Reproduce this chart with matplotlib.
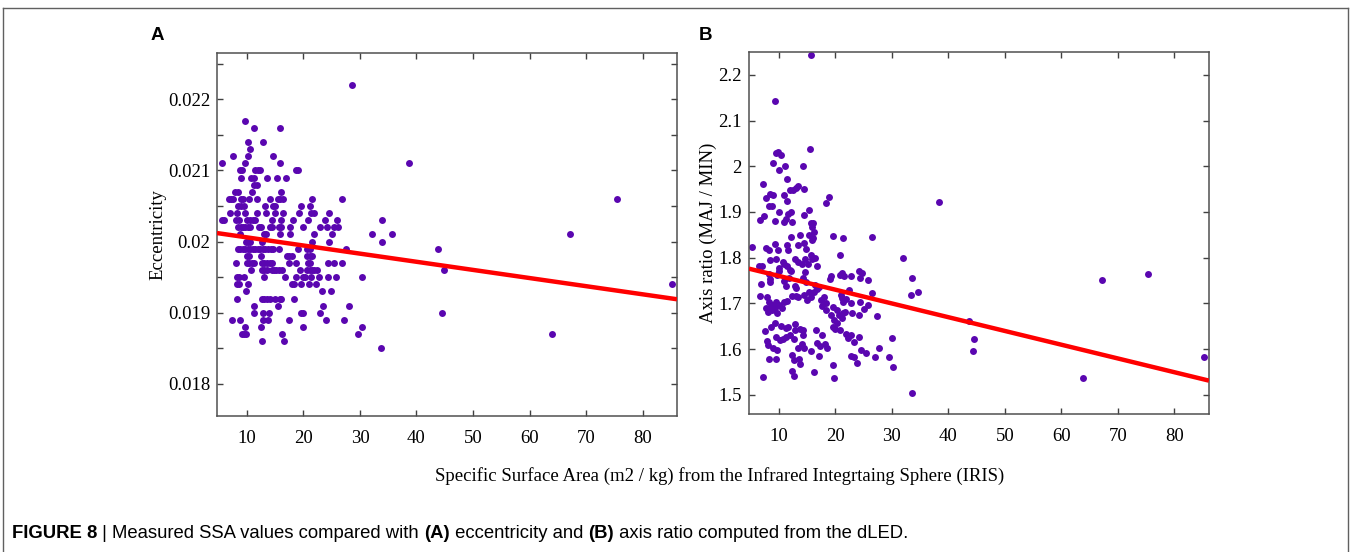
import matplotlib.pyplot as plt
from matplotlib.ticker import MultipleLocator, FuncFormatter

# ---- Panel A: eccentricity (values sit on a 1e-4 grid) ----
ecc_levels = [0.0222, 0.0217, 0.0216, 0.0214, 0.0213, 0.0212, 0.0211, 0.0210,
              0.0209, 0.0208, 0.0207, 0.0206, 0.0205, 0.0204, 0.0203, 0.0202,
              0.0201, 0.0200, 0.0199, 0.0198, 0.0197, 0.0196, 0.0195, 0.0194,
              0.0193, 0.0192, 0.0191, 0.0190, 0.0189, 0.0188, 0.0187, 0.0186,
              0.0185]
ssa_at_level = [
    [28.6],
    [9.6],
    [11.3, 15.8],
    [10.2, 12.8],
    [10.6],
    [7.5, 10.1, 14.7],
    [5.5, 9.7, 15.9, 38.6],
    [8.8, 9.2, 11.5, 11.9, 12.3, 18.6, 19.1],
    [8.9, 10.8, 11.2, 13.5, 15.4, 16.9],
    [11.2, 11.8],
    [7.9, 8.4, 10.9, 16.0],
    [6.8, 7.2, 7.6, 8.9, 9.3, 10.4, 11.8, 14.0, 15.5, 15.9, 16.3, 21.5, 26.8, 75.5],
    [8.5, 8.9, 9.4, 13.2, 14.6, 15.0, 19.6, 21.2],
    [7.0, 8.2, 9.6, 11.8, 13.4, 15.0, 16.3, 19.2, 21.4, 21.8, 24.5],
    [5.6, 6.0, 8.1, 8.6, 10.0, 10.6, 11.0, 11.4, 14.4, 16.1, 18.2, 20.8, 23.8,
     26.0, 33.9],
    [8.5, 8.9, 9.3, 9.7, 10.2, 10.6, 12.1, 12.5, 14.1, 14.4, 15.6, 16.1, 17.6,
     19.9, 22.9, 24.2, 25.4, 26.1],
    [8.7, 13.1, 13.4, 15.9, 17.6, 21.8, 25.0, 32.2, 35.6, 67.2],
    [9.8, 10.2, 10.6, 12.6, 21.5, 24.5, 33.9],
    [8.4, 8.8, 9.3, 9.7, 10.1, 10.6, 11.1, 11.5, 12.0, 12.4, 12.8, 13.2, 13.7,
     14.2, 14.6, 15.6, 19.1, 20.6, 21.1, 27.5, 43.8],
    [10.0, 10.4, 12.5, 17.1, 17.5, 17.9, 20.7, 21.2, 21.6],
    [8.1, 10.0, 10.4, 10.9, 11.3, 12.6, 13.1, 13.5, 14.0, 14.5, 17.4, 18.6, 20.8,
     21.2, 24.3, 25.4, 26.8],
    [10.8, 12.6, 13.1, 13.5, 14.4, 14.8, 15.2, 15.7, 16.2, 19.4, 20.6, 21.1, 21.5,
     21.9, 22.4, 44.8],
    [8.2, 8.6, 9.5, 13.1, 16.8, 18.6, 19.9, 20.3, 21.4, 22.8, 24.3, 25.8, 30.3],
    [8.2, 8.6, 10.2, 17.9, 18.4, 19.6, 20.9, 22.2, 85.3],
    [9.9, 23.2, 24.8],
    [8.3, 12.6, 13.1, 13.6, 14.1, 14.9, 15.8, 16.1, 18.4],
    [11.3, 15.5, 23.5, 28.0],
    [11.2, 12.9, 13.9, 19.6, 20.0, 22.9, 44.5],
    [7.4, 8.7, 12.9, 13.8, 17.5, 24.0, 27.2],
    [9.6, 12.5, 19.9, 30.4],
    [9.1, 9.5, 9.9, 16.2, 29.7, 63.9],
    [12.6, 16.5],
    [33.8],
]

# ---- Panel B: axis ratio ----
ssa_b = [15.7, 9.3, 9.5, 9.9, 10.4, 15.5, 9.0, 11.0, 14.3, 10.1, 7.2, 11.4, 14.5,
         11.9, 12.5, 13.0, 13.3, 8.5, 8.9, 10.9, 7.8, 11.4, 18.4, 18.9, 8.3, 8.7,
         10.0, 11.7, 12.2, 14.4, 15.4, 6.7, 7.3, 9.3, 10.9, 11.3, 12.4, 15.7, 16.1,
         15.9,
         13.8, 12.2, 15.4, 16.2, 16.0, 15.9, 19.5, 21.4, 26.5, 5.2, 7.8, 8.2, 9.3,
         11.5, 11.7, 9.9, 13.3, 14.4, 14.8, 8.4, 9.5, 10.7, 6.5, 7.0, 10.1, 10.9,
         11.5, 12.0, 12.2, 12.8, 13.3, 14.1, 14.7, 15.2, 15.6, 15.9, 16.4, 16.8,
         20.8, 31.9,
         6.9, 8.4, 8.4, 8.2, 9.7, 10.1, 10.9, 11.2, 11.8, 12.8, 13.0, 14.6, 14.3,
         15.3, 14.8, 16.4, 16.8, 17.1, 18.0, 19.0, 19.2, 20.9, 21.1, 21.5, 22.7,
         24.2, 24.7, 24.4, 25.8, 26.5, 22.4, 21.0, 21.1, 21.3, 21.9, 24.3, 25.8,
         6.6, 7.9, 8.2, 8.7, 8.3, 7.8, 8.1, 8.8, 9.3, 9.5, 10.1, 10.9, 11.5, 10.6,
         9.7, 12.4, 13.0, 13.4, 14.4, 15.0, 15.6, 16.2, 17.5, 18.3, 17.7, 18.3,
         19.5, 20.3, 20.7, 21.1, 19.2, 19.8, 20.3, 21.3, 21.7, 22.8, 23.0, 24.1,
         25.1, 27.4,
         8.6, 9.4, 10.3, 11.2, 11.7, 12.8, 12.9, 13.7, 14.3, 14.3, 16.6, 17.7, 19.6,
         20.0, 20.9, 21.8, 22.3, 22.7, 23.3, 24.2, 30.1, 7.5, 9.5, 7.9, 8.0, 8.9,
         9.6, 10.2, 10.8, 11.2, 12.0, 12.7, 13.4, 14.1, 14.5, 15.6, 16.7, 17.3,
         18.2, 18.6, 22.7, 23.3, 24.6, 25.4, 27.0, 27.7, 29.4, 30.2, 8.3, 9.5,
         12.4, 12.7, 13.5, 13.8, 17.1, 19.5, 16.2, 12.4, 12.7, 7.2, 19.8, 23.8,
         33.6, 34.6, 33.4, 33.5, 38.4, 43.7, 44.6, 44.3, 63.8, 67.1, 75.4, 85.3]
axis_ratio = [2.244, 2.143, 2.030, 2.031, 2.025, 2.037, 2.008, 2.001, 2.000, 1.991,
              1.962, 1.973, 1.951, 1.948, 1.947, 1.952, 1.956, 1.939, 1.937, 1.938,
              1.931, 1.924, 1.919, 1.933, 1.913, 1.913, 1.899, 1.896, 1.899, 1.894,
              1.905, 1.883, 1.891, 1.880, 1.878, 1.884, 1.879, 1.876, 1.876, 1.868,
              1.850, 1.845, 1.850, 1.856, 1.843, 1.838, 1.848, 1.844, 1.846, 1.824,
              1.821, 1.817, 1.829, 1.828, 1.817, 1.817, 1.828, 1.833, 1.819, 1.794,
              1.797, 1.790, 1.782, 1.781, 1.778, 1.786, 1.781, 1.773, 1.770, 1.797,
              1.790, 1.787, 1.797, 1.786, 1.806, 1.797, 1.799, 1.782, 1.805, 1.799,
              1.743, 1.746, 1.754, 1.764, 1.762, 1.771, 1.749, 1.737, 1.755, 1.739,
              1.733, 1.768, 1.755, 1.726, 1.746, 1.740, 1.731, 1.735, 1.713, 1.754,
              1.759, 1.762, 1.767, 1.759, 1.760, 1.771, 1.766, 1.755, 1.751, 1.723,
              1.729, 1.719, 1.711, 1.704, 1.709, 1.704, 1.697,
              1.716, 1.715, 1.704, 1.697, 1.689, 1.691, 1.682, 1.686, 1.689, 1.703,
              1.697, 1.703, 1.705, 1.689, 1.678, 1.716, 1.716, 1.713, 1.719, 1.708,
              1.713, 1.726, 1.708, 1.700, 1.694, 1.686, 1.693, 1.686, 1.675, 1.667,
              1.675, 1.664, 1.657, 1.678, 1.682, 1.700, 1.680, 1.675, 1.687, 1.673,
              1.649, 1.657, 1.651, 1.647, 1.649, 1.654, 1.642, 1.643, 1.642, 1.631,
              1.642, 1.631, 1.649, 1.643, 1.642, 1.633, 1.624, 1.631, 1.616, 1.627,
              1.625, 1.640, 1.627, 1.618, 1.609, 1.602, 1.598, 1.620, 1.623, 1.627,
              1.631, 1.622, 1.602, 1.611, 1.602, 1.595, 1.614, 1.607, 1.611, 1.602,
              1.584, 1.582, 1.597, 1.592, 1.582, 1.603, 1.582, 1.560, 1.578, 1.578,
              1.587, 1.576, 1.578, 1.568, 1.585, 1.565, 1.549, 1.551, 1.541, 1.540,
              1.536, 1.569,
              1.756, 1.725, 1.719, 1.505, 1.921, 1.662, 1.622, 1.595, 1.536, 1.751,
              1.764, 1.583]

# regression lines (end values)
fit_x = [4.7, 86.1]
fit_ecc = [0.02012, 0.01919]
fit_ratio = [1.776, 1.531]

ssa_a = [x for xs in ssa_at_level for x in xs]
ecc = [lv for lv, xs in zip(ecc_levels, ssa_at_level) for _ in xs]

dot_color = '#5a06b0'
serif = ['Liberation Serif', 'DejaVu Serif']
sans = ['Liberation Sans', 'DejaVu Sans']

fig = plt.figure(figsize=(13.57, 5.52), dpi=100)
axA = fig.add_axes([0.1599, 0.2464, 0.339, 0.6576])
axB = fig.add_axes([0.5519, 0.2500, 0.339, 0.6558])

axA.scatter(ssa_a, ecc, s=25, color=dot_color, linewidths=0, zorder=2)
axA.plot(fit_x, fit_ecc, color='#ff0000', lw=3.2, zorder=3, solid_capstyle='butt')
axA.set_ylim(0.01755, 0.02265)
axA.yaxis.set_major_locator(MultipleLocator(0.001))
axA.yaxis.set_minor_locator(MultipleLocator(0.0005))
axA.set_ylabel('Eccentricity', family=serif, fontsize=13.5, labelpad=1)

axB.scatter(ssa_b, axis_ratio, s=25, color=dot_color, linewidths=0, zorder=2)
axB.plot(fit_x, fit_ratio, color='#ff0000', lw=3.2, zorder=3, solid_capstyle='butt')
axB.set_ylim(1.458, 2.250)
axB.yaxis.set_major_locator(MultipleLocator(0.1))
axB.set_ylabel('Axis ratio (MAJ / MIN)', family=serif, fontsize=13.5, labelpad=1)

for ax in (axA, axB):
    ax.set_xlim(4.7, 86.1)
    ax.xaxis.set_major_locator(MultipleLocator(10))
    ax.yaxis.set_major_formatter(FuncFormatter(lambda v, p: f'{v:g}'))
    ax.tick_params(which='both', direction='in', top=True, right=True,
                   length=4, width=1, color='#404040', labelsize=13.5)
    ax.tick_params(axis='x', pad=10)
    ax.tick_params(axis='y', pad=5)
    for lab in ax.get_xticklabels() + ax.get_yticklabels():
        lab.set_family(serif)
    for sp in ax.spines.values():
        sp.set_color('#505050')
        sp.set_linewidth(1.1)

fig.text(157 / 1357, 1 - 35 / 552, 'A', family=sans,
         fontsize=13.5, fontweight='bold', ha='center', va='center')
fig.text(706 / 1357, 1 - 35 / 552, 'B', family=sans,
         fontsize=13.5, fontweight='bold', ha='center', va='center')
fig.text(720 / 1357, 1 - 476 / 552,
         'Specific Surface Area (m2 / kg) from the Infrared Integrtaing Sphere (IRIS)',
         family=serif, fontsize=13.5, ha='center', va='center')

# caption, written piece by piece so that some parts can be bold
caption = [('FIGURE 8', 'bold'), (' | ', 'normal'),
           ('Measured SSA values compared with ', 'normal'), ('(A)', 'bold'),
           (' eccentricity and ', 'normal'), ('(B)', 'bold'),
           (' axis ratio computed from the dLED.', 'normal')]
renderer = fig.canvas.get_renderer()
x0 = 12 / 1357
for piece, weight in caption:
    t = fig.text(x0, 1 - 534 / 552, piece, family=sans,
                 fontsize=13.3, fontweight=weight, ha='left', va='center')
    bb = t.get_window_extent(renderer)
    x0 += bb.width / fig.bbox.width

# outer frame of the figure panel
frame_kw = dict(color='#606060', lw=1.0, transform=fig.transFigure, clip_on=False)
fig.add_artist(plt.Line2D([3 / 1357, 1348 / 1357], [1 - 8 / 552, 1 - 8 / 552], **frame_kw))
fig.add_artist(plt.Line2D([3 / 1357, 3 / 1357], [1 - 8 / 552, 0], **frame_kw))
fig.add_artist(plt.Line2D([1348 / 1357, 1348 / 1357], [1 - 8 / 552, 0], **frame_kw))

fig.savefig('out.png', dpi=100)
